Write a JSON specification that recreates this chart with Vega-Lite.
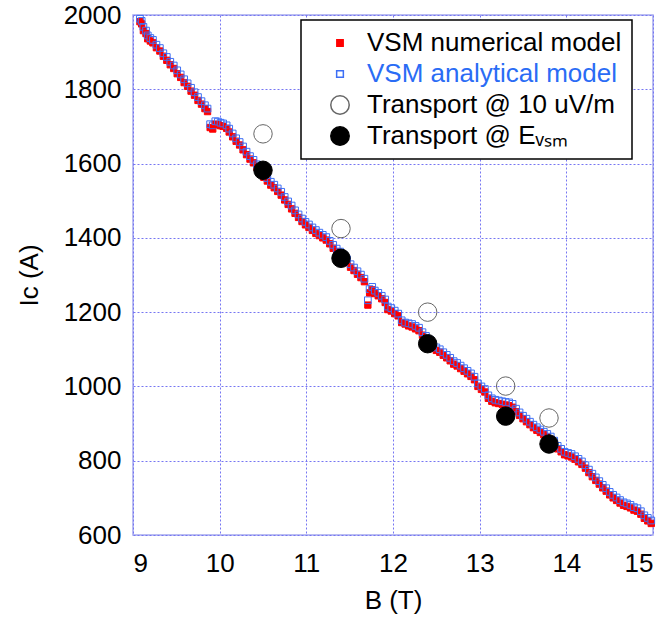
{
  "$schema": "https://vega.github.io/schema/vega-lite/v6.json",
  "autosize": "none",
  "width": 520,
  "height": 520,
  "padding": {"left": 133, "top": 15, "right": 15, "bottom": 97},
  "background": "white",
  "datasets": {
    "curve": [
      {"B":9.08,"n":1982,"a":1990},{"B":9.10,"n":1976,"a":1984},{"B":9.12,"n":1958,"a":1968},{"B":9.15,"n":1950,"a":1958},
      {"B":9.17,"n":1936,"a":1945},{"B":9.20,"n":1930,"a":1938},{"B":9.23,"n":1925,"a":1933},{"B":9.27,"n":1912,"a":1920},
      {"B":9.31,"n":1903,"a":1911},{"B":9.35,"n":1889,"a":1897},{"B":9.39,"n":1878,"a":1887},{"B":9.43,"n":1866,"a":1874},
      {"B":9.47,"n":1856,"a":1864},{"B":9.51,"n":1842,"a":1851},{"B":9.55,"n":1832,"a":1840},{"B":9.59,"n":1818,"a":1827},
      {"B":9.63,"n":1808,"a":1816},{"B":9.67,"n":1795,"a":1804},{"B":9.71,"n":1784,"a":1792},{"B":9.75,"n":1770,"a":1779},
      {"B":9.79,"n":1760,"a":1768},{"B":9.83,"n":1748,"a":1757},{"B":9.86,"n":1740,"a":1748},{"B":9.89,"n":1697,"a":1706},
      {"B":9.92,"n":1693,"a":1703},{"B":9.95,"n":1706,"a":1714},{"B":9.98,"n":1705,"a":1713},{"B":10.01,"n":1702,"a":1710},
      {"B":10.04,"n":1700,"a":1708},{"B":10.08,"n":1695,"a":1703},{"B":10.11,"n":1685,"a":1694},{"B":10.15,"n":1672,"a":1681},
      {"B":10.19,"n":1660,"a":1668},{"B":10.23,"n":1650,"a":1658},{"B":10.27,"n":1637,"a":1646},{"B":10.31,"n":1624,"a":1632},
      {"B":10.35,"n":1612,"a":1620},{"B":10.39,"n":1602,"a":1610},{"B":10.43,"n":1590,"a":1598},{"B":10.47,"n":1575,"a":1584},
      {"B":10.51,"n":1563,"a":1571},{"B":10.55,"n":1553,"a":1561},{"B":10.59,"n":1542,"a":1551},{"B":10.63,"n":1535,"a":1543},
      {"B":10.67,"n":1525,"a":1533},{"B":10.71,"n":1515,"a":1524},{"B":10.75,"n":1502,"a":1510},{"B":10.79,"n":1490,"a":1498},
      {"B":10.83,"n":1478,"a":1487},{"B":10.87,"n":1466,"a":1474},{"B":10.91,"n":1455,"a":1463},{"B":10.95,"n":1444,"a":1452},
      {"B":10.99,"n":1435,"a":1443},{"B":11.03,"n":1428,"a":1436},{"B":11.07,"n":1420,"a":1428},{"B":11.11,"n":1412,"a":1421},
      {"B":11.15,"n":1406,"a":1414},{"B":11.19,"n":1400,"a":1408},{"B":11.23,"n":1394,"a":1402},{"B":11.27,"n":1384,"a":1392},
      {"B":11.31,"n":1372,"a":1381},{"B":11.35,"n":1363,"a":1371},{"B":11.39,"n":1355,"a":1363},{"B":11.43,"n":1346,"a":1354},
      {"B":11.47,"n":1333,"a":1342},{"B":11.51,"n":1321,"a":1329},{"B":11.55,"n":1312,"a":1320},{"B":11.59,"n":1302,"a":1310},
      {"B":11.63,"n":1293,"a":1301},{"B":11.67,"n":1282,"a":1290},{"B":11.71,"n":1219,"a":1232},{"B":11.73,"n":1252,"a":1262},
      {"B":11.76,"n":1260,"a":1268},{"B":11.79,"n":1250,"a":1258},{"B":11.83,"n":1244,"a":1252},{"B":11.87,"n":1236,"a":1244},
      {"B":11.91,"n":1226,"a":1234},{"B":11.94,"n":1207,"a":1215},{"B":11.98,"n":1203,"a":1211},{"B":12.02,"n":1196,"a":1204},
      {"B":12.06,"n":1190,"a":1196},{"B":12.10,"n":1172,"a":1178},{"B":12.14,"n":1168,"a":1172},{"B":12.18,"n":1163,"a":1170},
      {"B":12.22,"n":1160,"a":1168},{"B":12.26,"n":1155,"a":1163},{"B":12.30,"n":1150,"a":1158},{"B":12.34,"n":1138,"a":1146},
      {"B":12.38,"n":1128,"a":1136},{"B":12.42,"n":1118,"a":1126},{"B":12.46,"n":1106,"a":1114},{"B":12.50,"n":1097,"a":1105},
      {"B":12.54,"n":1092,"a":1100},{"B":12.58,"n":1084,"a":1092},{"B":12.62,"n":1077,"a":1085},{"B":12.66,"n":1069,"a":1077},
      {"B":12.70,"n":1060,"a":1068},{"B":12.74,"n":1055,"a":1063},{"B":12.78,"n":1048,"a":1056},{"B":12.82,"n":1041,"a":1049},
      {"B":12.86,"n":1034,"a":1042},{"B":12.90,"n":1027,"a":1035},{"B":12.94,"n":1018,"a":1026},{"B":12.98,"n":1000,"a":1008},
      {"B":13.02,"n":992,"a":1000},{"B":13.06,"n":985,"a":993},{"B":13.10,"n":968,"a":976},{"B":13.14,"n":960,"a":968},
      {"B":13.18,"n":956,"a":964},{"B":13.22,"n":954,"a":962},{"B":13.26,"n":952,"a":960},{"B":13.30,"n":950,"a":958},
      {"B":13.34,"n":948,"a":957},{"B":13.38,"n":944,"a":953},{"B":13.42,"n":932,"a":940},{"B":13.46,"n":922,"a":930},
      {"B":13.50,"n":913,"a":921},{"B":13.54,"n":905,"a":913},{"B":13.58,"n":897,"a":905},{"B":13.62,"n":889,"a":897},
      {"B":13.66,"n":882,"a":890},{"B":13.70,"n":876,"a":884},{"B":13.74,"n":870,"a":878},{"B":13.78,"n":864,"a":872},
      {"B":13.82,"n":857,"a":865},{"B":13.86,"n":846,"a":854},{"B":13.90,"n":832,"a":840},{"B":13.94,"n":824,"a":832},
      {"B":13.98,"n":816,"a":824},{"B":14.02,"n":813,"a":821},{"B":14.06,"n":810,"a":818},{"B":14.10,"n":804,"a":812},
      {"B":14.14,"n":797,"a":805},{"B":14.18,"n":790,"a":798},{"B":14.22,"n":780,"a":788},{"B":14.26,"n":768,"a":776},
      {"B":14.30,"n":757,"a":765},{"B":14.34,"n":747,"a":755},{"B":14.38,"n":737,"a":745},{"B":14.42,"n":727,"a":735},
      {"B":14.46,"n":718,"a":726},{"B":14.50,"n":708,"a":716},{"B":14.54,"n":700,"a":708},{"B":14.58,"n":693,"a":701},
      {"B":14.62,"n":686,"a":694},{"B":14.66,"n":680,"a":688},{"B":14.70,"n":677,"a":685},{"B":14.74,"n":673,"a":681},
      {"B":14.78,"n":667,"a":675},{"B":14.82,"n":664,"a":672},{"B":14.86,"n":656,"a":664},{"B":14.90,"n":645,"a":653},
      {"B":14.94,"n":638,"a":646},{"B":14.98,"n":631,"a":639}
    ],
    "transport": [
      {"B":10.5,"I":1680,"series":"t10"},{"B":11.4,"I":1425,"series":"t10"},{"B":12.4,"I":1200,"series":"t10"},
      {"B":13.3,"I":1001,"series":"t10"},{"B":13.8,"I":915,"series":"t10"},
      {"B":10.5,"I":1582,"series":"tE"},{"B":11.4,"I":1345,"series":"tE"},{"B":12.4,"I":1115,"series":"tE"},
      {"B":13.3,"I":920,"series":"tE"},{"B":13.8,"I":845,"series":"tE"}
    ]
  },
  "encoding": {
    "x": {"field": "B", "type": "quantitative", "scale": {"domain": [9, 15], "nice": false},
      "axis": {"title": "B (T)", "values": [9,10,11,12,13,14,15], "format": "d", "labelPadding": 15, "titlePadding": 11}},
    "y": {"field": "I", "type": "quantitative", "scale": {"domain": [600, 2000], "nice": false},
      "axis": {"title": "Ic (A)", "values": [600,800,1000,1200,1400,1600,1800,2000], "format": "d", "labelPadding": 12, "titlePadding": 21}},
    "shape": {"field": "series", "type": "nominal",
      "scale": {"domain": ["n","a","t10","tE"], "range": ["square","square","circle","circle"]},
      "legend": {"title": null, "labelExpr": "datum.value=='n'?'VSM numerical model':datum.value=='a'?'VSM analytical model':datum.value=='t10'?'Transport @ 10 uV/m':'Transport @ Eᵥₛₘ'",
        "labelColor": {"expr": "datum.value=='a'?'#2a6cf5':'black'"}}},
    "fill": {"field": "series", "type": "nominal",
      "scale": {"domain": ["n","a","t10","tE"], "range": ["#ff0000","transparent","transparent","#000000"]},
      "legend": {"title": null, "labelExpr": "datum.value=='n'?'VSM numerical model':datum.value=='a'?'VSM analytical model':datum.value=='t10'?'Transport @ 10 uV/m':'Transport @ Eᵥₛₘ'",
        "labelColor": {"expr": "datum.value=='a'?'#2a6cf5':'black'"}}},
    "stroke": {"field": "series", "type": "nominal",
      "scale": {"domain": ["n","a","t10","tE"], "range": ["#ff0000","#3d6ff5","#666666","#000000"]},
      "legend": {"title": null, "labelExpr": "datum.value=='n'?'VSM numerical model':datum.value=='a'?'VSM analytical model':datum.value=='t10'?'Transport @ 10 uV/m':'Transport @ Eᵥₛₘ'",
        "labelColor": {"expr": "datum.value=='a'?'#2a6cf5':'black'"}}},
    "size": {"field": "series", "type": "nominal",
      "scale": {"type": "ordinal", "domain": ["n","a","t10","tE"], "range": [40, 45, 340, 340]},
      "legend": {"title": null, "labelExpr": "datum.value=='n'?'VSM numerical model':datum.value=='a'?'VSM analytical model':datum.value=='t10'?'Transport @ 10 uV/m':'Transport @ Eᵥₛₘ'",
        "labelColor": {"expr": "datum.value=='a'?'#2a6cf5':'black'"}}}
  },
  "layer": [
    {
      "data": {"name": "curve"},
      "transform": [{"fold": ["n", "a"], "as": ["series", "I"]}],
      "mark": {"type": "point", "strokeWidth": 1, "opacity": 1}
    },
    {
      "data": {"name": "transport"},
      "mark": {"type": "point", "strokeWidth": 1, "opacity": 1}
    }
  ],
  "config": {
    "view": {"stroke": "#a4a8ee", "strokeWidth": 1.5},
    "axis": {
      "labelFont": "Liberation Sans", "labelFontSize": 26, "labelColor": "black",
      "titleFont": "Liberation Sans", "titleFontSize": 26, "titleFontWeight": "normal", "titleColor": "black",
      "domain": false, "ticks": false,
      "grid": true, "gridColor": "#7676f2", "gridDash": [2, 2], "gridWidth": 1, "gridOpacity": 1
    },
    "legend": {
      "orient": "none", "legendX": 168, "legendY": 5,
      "strokeColor": "black", "strokeWidth": 1.5, "fillColor": "white",
      "padding": 10, "labelFont": "Liberation Sans", "labelFontSize": 26,
      "rowPadding": 5, "symbolOffset": 16, "labelOffset": 14, "labelLimit": 400
    }
  }
}
